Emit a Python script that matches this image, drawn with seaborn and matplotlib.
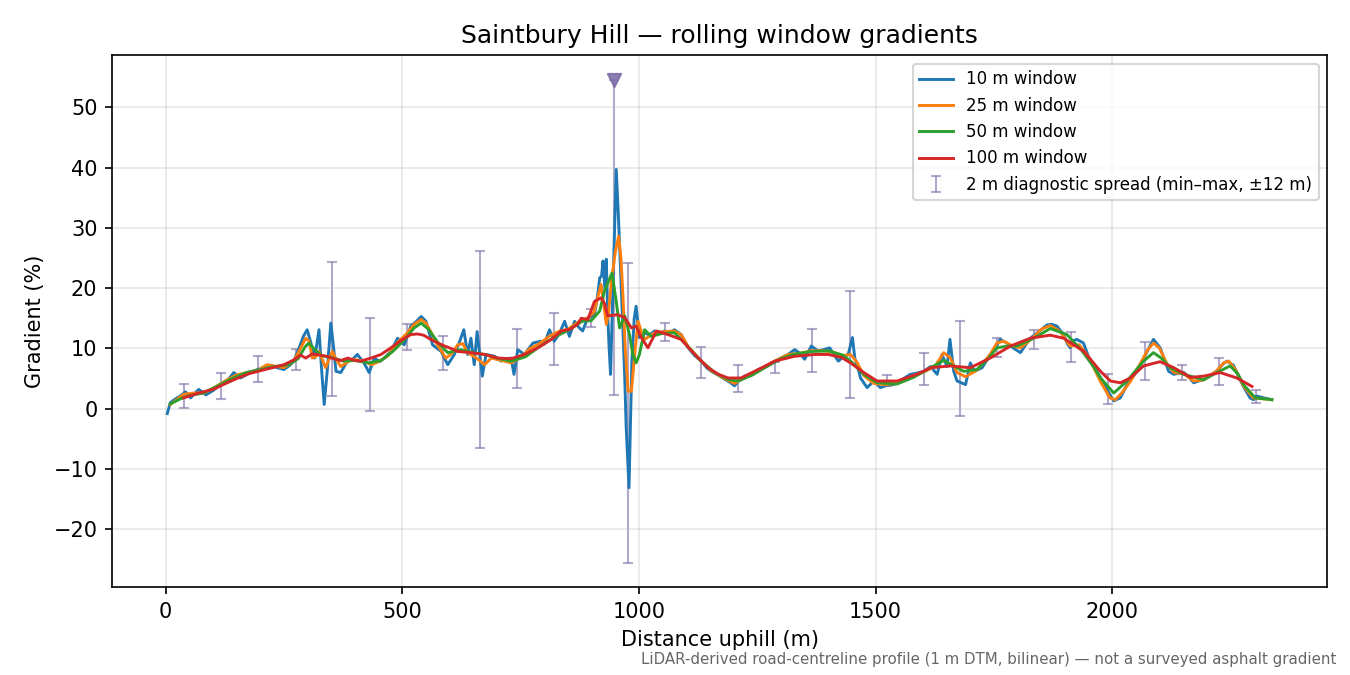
import numpy as np
import pandas as pd
import matplotlib
matplotlib.use('Agg')
import matplotlib.pyplot as plt
import seaborn as sns

# 10 m window
dist_10 = [3.5, 10, 20, 31, 42, 53, 62, 70, 85, 100, 116, 130, 144, 158, 175, 194, 210, 222, 236, 250,
           262, 271, 282, 291, 299, 306, 315, 324, 330, 335, 342, 349, 355, 360, 370, 384, 395, 405, 419, 430,
           441, 452, 462, 476, 490, 504, 518, 530, 540, 550, 564, 582, 596, 610, 620, 630, 638, 645, 652, 658,
           669, 677, 695, 709, 720, 730, 736, 744, 758, 776, 793, 800, 811, 821, 832, 843, 853, 864, 873, 881,
           892, 906, 913, 917, 921, 924, 928, 931, 934, 937, 940, 945, 949, 952, 956, 959, 966, 970, 973, 979,
           985, 990, 994, 1001, 1012, 1022, 1033, 1044, 1054, 1065, 1075, 1089, 1104, 1118, 1132, 1143, 1153, 1167, 1181, 1192,
           1202, 1212, 1223, 1238, 1252, 1270, 1287, 1300, 1315, 1329, 1340, 1350, 1364, 1378, 1390, 1403, 1412, 1421, 1432, 1442,
           1451, 1456, 1462, 1468, 1482, 1496, 1510, 1524, 1538, 1555, 1573, 1587, 1602, 1616, 1630, 1640, 1651, 1657, 1665, 1672,
           1690, 1700, 1709, 1725, 1742, 1756, 1763, 1777, 1792, 1806, 1816, 1827, 1845, 1862, 1872, 1883, 1897, 1905, 1911, 1918,
           1925, 1939, 1950, 1965, 1980, 1990, 2003, 2017, 2031, 2052, 2066, 2080, 2087, 2101, 2111, 2119, 2130, 2140, 2151, 2162,
           2172, 2182, 2193, 2207, 2221, 2235, 2242, 2256, 2266, 2277, 2291, 2298, 2305, 2320, 2337]
grad_10 = [-0.8, 1.0, 1.6, 2.1, 2.8, 1.8, 2.6, 3.2, 2.3, 3.0, 4.0, 4.6, 6.0, 5.1, 5.8, 6.5, 6.8, 7.2, 6.8, 6.5,
           7.2, 7.9, 10.1, 12.0, 13.1, 11.2, 8.4, 13.1, 6.0, 0.7, 6.8, 14.2, 10.0, 6.2, 6.0, 7.9, 8.2, 9.0, 7.6, 6.0,
           8.4, 7.8, 8.4, 9.5, 11.7, 10.6, 13.7, 14.5, 15.3, 14.5, 10.6, 9.5, 7.3, 9.0, 10.9, 13.1, 9.0, 11.7, 7.3, 12.8,
           5.4, 9.0, 8.7, 7.9, 8.3, 8.4, 5.7, 9.8, 9.0, 10.9, 11.2, 10.7, 13.1, 11.2, 12.5, 14.5, 12.0, 14.5, 13.5, 12.9,
           15.1, 15.6, 19.0, 21.7, 22.0, 24.5, 20.0, 24.8, 15.6, 10.0, 5.7, 20.0, 32.0, 39.7, 33.0, 27.2, 13.4, 5.0, -3.1, -13.1,
           7.9, 15.0, 17.0, 11.8, 12.6, 12.2, 12.9, 12.5, 12.9, 12.6, 13.1, 12.3, 10.1, 8.8, 7.9, 6.8, 6.2, 5.6, 4.9, 4.4,
           3.8, 4.8, 5.4, 5.8, 6.5, 7.0, 7.9, 8.4, 9.0, 9.8, 9.2, 8.2, 10.4, 9.6, 9.8, 10.1, 9.0, 7.9, 8.6, 9.0,
           11.8, 8.4, 7.0, 5.1, 3.5, 4.6, 3.5, 3.9, 4.0, 4.8, 5.7, 5.9, 6.2, 7.0, 5.7, 9.0, 7.0, 11.5, 6.2, 4.6,
           4.0, 7.6, 6.2, 6.8, 9.0, 10.5, 11.5, 10.9, 10.0, 9.3, 10.5, 11.7, 12.8, 13.9, 14.0, 13.7, 12.3, 10.8, 10.1, 11.3,
           11.5, 10.9, 8.6, 6.5, 4.5, 3.0, 1.3, 1.8, 4.0, 6.2, 8.3, 10.5, 11.5, 10.1, 8.0, 6.2, 5.7, 5.9, 6.0, 5.2,
           4.3, 4.6, 4.8, 5.5, 6.3, 7.5, 7.9, 7.2, 5.5, 3.7, 1.8, 1.5, 2.1, 1.8, 1.5]

# 25 m window
dist_25 = [10, 25, 38, 60, 81, 105, 130, 150, 172, 195, 214, 235, 250, 271, 285, 296, 303, 310, 317, 324,
           338, 352, 362, 370, 385, 395, 419, 435, 450, 470, 490, 510, 525, 540, 550, 560, 575, 592, 605, 617,
           628, 638, 655, 674, 688, 710, 730, 750, 770, 790, 810, 830, 850, 870, 890, 905, 913, 920, 926, 931,
           936, 941, 950, 957, 962, 966, 971, 977, 984, 991, 998, 1005, 1012, 1033, 1054, 1075, 1090, 1104, 1132, 1153,
           1181, 1202, 1223, 1252, 1287, 1315, 1340, 1364, 1390, 1410, 1430, 1447, 1460, 1475, 1496, 1520, 1545, 1573, 1602, 1625,
           1644, 1658, 1672, 1690, 1714, 1742, 1756, 1770, 1790, 1806, 1830, 1850, 1869, 1890, 1911, 1930, 1950, 1975, 1995, 2006,
           2020, 2038, 2060, 2075, 2087, 2100, 2115, 2130, 2151, 2172, 2193, 2221, 2235, 2246, 2260, 2277, 2298, 2337]
grad_25 = [0.7, 1.6, 2.4, 2.6, 2.6, 3.6, 4.8, 5.6, 6.0, 6.4, 7.3, 7.0, 6.8, 7.9, 10.0, 11.7, 11.2, 8.4, 8.6, 9.5,
           6.8, 9.5, 8.0, 7.0, 7.8, 8.2, 7.9, 7.3, 7.8, 8.8, 11.0, 12.5, 14.0, 14.8, 14.2, 12.8, 10.5, 8.4, 9.2, 10.6,
           10.8, 9.3, 8.5, 7.3, 8.4, 8.0, 7.6, 8.5, 10.0, 10.8, 12.0, 12.8, 13.2, 14.3, 15.0, 16.0, 18.5, 20.6, 17.0, 14.0,
           16.0, 20.6, 26.0, 28.6, 25.0, 19.0, 10.0, 2.9, 2.9, 9.0, 14.5, 12.8, 11.5, 12.6, 12.8, 12.9, 12.2, 10.3, 7.9, 6.3,
           5.0, 4.2, 5.2, 6.4, 7.9, 9.0, 9.2, 9.6, 9.6, 9.4, 8.8, 9.0, 7.8, 5.5, 4.2, 4.0, 4.2, 5.3, 6.1, 7.0,
           9.3, 8.4, 6.0, 5.3, 6.4, 9.0, 10.9, 11.2, 10.4, 10.1, 11.6, 13.2, 13.8, 12.8, 10.4, 10.6, 8.6, 4.5, 1.8, 1.5,
           2.6, 4.5, 7.6, 9.8, 10.9, 10.0, 7.5, 6.0, 5.8, 4.6, 4.8, 6.3, 7.6, 7.9, 6.5, 3.8, 1.8, 1.5]

# 50 m window
dist_50 = [10, 30, 50, 80, 110, 140, 170, 200, 230, 260, 280, 295, 303, 315, 330, 350, 375, 400, 430, 455,
           480, 505, 525, 540, 555, 575, 596, 624, 650, 674, 700, 730, 760, 790, 820, 850, 880, 899, 917, 927,
           943, 952, 959, 970, 980, 987, 994, 1001, 1012, 1026, 1050, 1075, 1100, 1130, 1160, 1190, 1210, 1240, 1270, 1300,
           1330, 1365, 1400, 1430, 1447, 1475, 1503, 1545, 1580, 1616, 1644, 1665, 1686, 1714, 1740, 1756, 1780, 1799, 1834, 1869,
           1904, 1935, 1960, 1975, 2003, 2031, 2066, 2087, 2105, 2122, 2151, 2193, 2221, 2249, 2265, 2277, 2302, 2337]
grad_50 = [0.8, 1.6, 2.2, 2.6, 3.8, 5.0, 6.0, 6.5, 7.0, 7.3, 8.3, 10.3, 10.9, 9.8, 8.8, 8.5, 7.9, 8.0, 7.6, 8.0,
           9.5, 11.5, 13.4, 14.2, 13.2, 11.0, 9.3, 9.8, 9.3, 9.0, 8.4, 7.9, 8.6, 10.3, 11.8, 13.0, 14.5, 14.6, 16.2, 19.5,
           22.5, 17.8, 13.4, 15.4, 12.3, 9.0, 7.6, 9.0, 13.1, 12.0, 12.5, 12.6, 10.6, 8.0, 6.0, 4.8, 4.6, 5.6, 7.0, 8.3,
           9.1, 9.5, 9.6, 8.9, 7.9, 5.7, 4.3, 4.1, 5.2, 6.8, 8.0, 7.1, 6.2, 6.5, 8.5, 10.1, 10.4, 10.4, 11.7, 13.3,
           12.3, 9.7, 7.0, 5.1, 2.6, 4.6, 7.9, 9.3, 8.3, 6.8, 5.7, 4.8, 6.0, 7.1, 5.8, 4.0, 1.8, 1.5]

# 100 m window
dist_100 = [38, 70, 100, 130, 150, 175, 200, 225, 250, 271, 285, 296, 310, 325, 340, 355, 370, 385, 400, 412,
            434, 455, 476, 497, 518, 532, 545, 560, 575, 589, 603, 617, 645, 674, 702, 730, 758, 786, 815, 836,
            855, 870, 878, 892, 906, 920, 927, 934, 945, 955, 970, 984, 994, 1005, 1019, 1028, 1037, 1061, 1089, 1118,
            1146, 1168, 1188, 1216, 1252, 1287, 1329, 1372, 1400, 1428, 1447, 1475, 1503, 1545, 1587, 1616, 1658, 1700, 1742, 1785,
            1827, 1869, 1897, 1940, 1975, 1996, 2017, 2038, 2066, 2101, 2130, 2165, 2193, 2228, 2263, 2295]
grad_100 = [1.8, 2.6, 3.2, 4.3, 5.0, 5.8, 6.3, 6.8, 7.3, 8.1, 8.9, 8.4, 9.1, 8.9, 8.7, 8.3, 8.0, 8.4, 8.0, 7.9,
            8.4, 9.0, 10.1, 11.3, 12.3, 12.4, 12.2, 11.5, 10.9, 10.4, 10.0, 9.5, 9.3, 9.0, 8.4, 8.3, 9.0, 10.1, 11.5, 12.9,
            13.2, 14.0, 15.0, 14.8, 17.8, 18.4, 17.5, 15.4, 15.5, 15.6, 15.1, 13.4, 13.7, 11.8, 10.1, 11.5, 12.9, 12.3, 11.5, 9.0,
            6.8, 5.7, 5.1, 5.1, 6.5, 7.9, 8.7, 9.0, 9.0, 8.5, 7.6, 6.0, 4.6, 4.6, 5.7, 6.8, 7.1, 6.8, 8.4, 10.4,
            11.7, 12.2, 11.7, 9.5, 6.2, 4.6, 4.3, 5.1, 7.1, 7.8, 6.8, 5.2, 5.4, 6.0, 5.1, 3.7]

# 2 m diagnostic spread (min / max over +-12 m)
spread_x = [39, 117, 196, 275, 352, 431, 509, 586, 665, 743, 820, 898, 948, 977, 1055,
            1131, 1209, 1288, 1366, 1445, 1523, 1602, 1679, 1757, 1835, 1913, 1991, 2069, 2148, 2226, 2303]
spread_lo = [0.2, 1.65, 4.4, 6.4, 2.1, -0.4, 9.7, 6.4, -6.5, 3.5, 7.2, 13.5, 2.3, -25.6, 11.2,
             5.1, 2.8, 6.0, 6.1, 1.8, 3.7, 4.0, -1.2, 8.6, 9.9, 7.8, 0.8, 4.7, 4.8, 3.9, 0.9]
spread_hi = [4.1, 5.95, 8.8, 9.9, 24.3, 15.0, 14.0, 12.1, 26.2, 13.2, 15.9, 16.5, 54.6, 24.1, 14.3,
             10.3, 7.2, 7.8, 13.3, 19.5, 5.6, 9.3, 14.5, 11.8, 13.0, 12.7, 5.7, 11.0, 7.2, 8.4, 3.1]
clipped_x = [948]
clipped_y = [54.6]

series = [
    (dist_10, grad_10, '10 m window', '#1f77b4'),
    (dist_25, grad_25, '25 m window', '#ff7f0e'),
    (dist_50, grad_50, '50 m window', '#2ca02c'),
    (dist_100, grad_100, '100 m window', '#d62728'),
]

fig, ax = plt.subplots(figsize=(9, 4.5), dpi=150)
fig.subplots_adjust(left=0.083, right=0.983, top=0.918, bottom=0.130)

for xs, ys, lab, col in series:
    df = pd.DataFrame({'dist': xs, 'grad': ys})
    sns.lineplot(data=df, x='dist', y='grad', ax=ax, color=col, label=lab, linewidth=1.4, sort=True)

lo = np.array(spread_lo)
hi = np.array(spread_hi)
ax.errorbar(spread_x, lo, yerr=[np.zeros_like(lo), hi - lo], fmt='none', ecolor='#7f6fa8',
            alpha=0.6, elinewidth=1.0, capsize=2.5, zorder=1,
            label='2 m diagnostic spread (min–max, ±12 m)')
ax.scatter(clipped_x, clipped_y, marker='v', s=40, color='#7f6fa8', alpha=0.9, zorder=3)

ax.set_title('Saintbury Hill — rolling window gradients', fontsize=12)
ax.set_xlabel('Distance uphill (m)')
ax.set_ylabel('Gradient (%)')
ax.grid(alpha=0.3)
ax.legend(loc='upper right', fontsize=8)

fig.text(0.99, 0.012, 'LiDAR-derived road-centreline profile (1 m DTM, bilinear) — not a surveyed asphalt gradient',
         ha='right', va='bottom', fontsize=7.2, color='#666666')

fig.savefig('out.png', dpi=150)
